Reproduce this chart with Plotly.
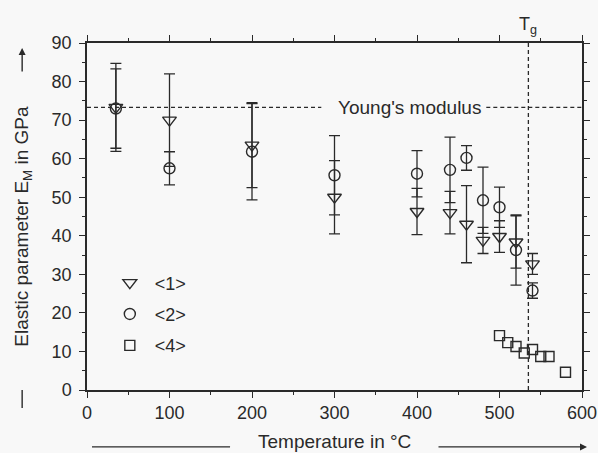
import plotly.graph_objects as go

# ---- data ----
temp_12 = [35, 100, 200, 300, 400, 440, 460, 480, 500, 520, 540]
e_1 = [73.3, 70.0, 63.5, 50.0, 46.3, 46.0, 43.0, 38.8, 39.8, 38.4, 32.7]
err_1 = [11.4, 12.0, 11.0, 9.5, 6.0, 5.5, 10.0, 3.4, 4.1, 6.8, 2.7]
e_2 = [73.0, 57.5, 61.8, 55.7, 56.1, 57.1, 60.2, 49.2, 47.4, 36.3, 25.8]
err_2 = [10.3, 4.3, 12.5, 10.3, 6.0, 8.5, 3.2, 8.6, 5.2, 9.1, 2.0]
temp_4 = [500, 510, 520, 530, 540, 550, 560, 580]
e_4 = [14.1, 12.3, 11.3, 9.6, 10.5, 8.7, 8.7, 4.6]
young_modulus = 73.3
young_gap = [284, 484]      # gap in the dashed line for its label
t_glass = 535
x_ticks = [0, 100, 200, 300, 400, 500, 600]
y_ticks = [0, 10, 20, 30, 40, 50, 60, 70, 80, 90]

INK = "#2a2a2a"
BG = "#f8f8f8"
FONT = "Liberation Sans, Arial, sans-serif"

fig = go.Figure()

# Young's modulus reference line (broken for its label)
fig.add_trace(go.Scatter(
    x=[0, young_gap[0], None, young_gap[1], 600],
    y=[young_modulus, young_modulus, None, young_modulus, young_modulus],
    mode="lines", line=dict(color=INK, width=1.3, dash="4px,3px"),
    showlegend=False, hoverinfo="skip"))
# Tg line
fig.add_trace(go.Scatter(
    x=[t_glass, t_glass], y=[0, 90], mode="lines",
    line=dict(color=INK, width=1.3, dash="4px,3px"),
    showlegend=False, hoverinfo="skip"))

err_style = dict(type="data", color=INK, thickness=1.3, width=5.5)

fig.add_trace(go.Scatter(
    x=temp_12, y=e_1, mode="markers", name="&lt;1&gt;", legendgroup="1",
    marker=dict(symbol="triangle-down-open", size=12, color=INK, line=dict(width=1.4)),
    error_y=dict(array=err_1, **err_style)))
fig.add_trace(go.Scatter(
    x=temp_12, y=e_2, mode="markers", name="&lt;2&gt;", legendgroup="2",
    marker=dict(symbol="circle-open", size=11, color=INK, line=dict(width=1.4)),
    error_y=dict(array=err_2, **err_style)))
fig.add_trace(go.Scatter(
    x=temp_4, y=e_4, mode="markers", name="&lt;4&gt;", legendgroup="4",
    marker=dict(symbol="square-open", size=10, color=INK, line=dict(width=1.4)),
    ))

axis_common = dict(
    showline=True, linecolor=INK, linewidth=1.5, mirror="ticks",
    ticks="outside", ticklen=6, tickwidth=1.3, tickcolor=INK,
    showgrid=False, zeroline=False, automargin=False,
    tickfont=dict(size=18, color=INK, family=FONT),
)

fig.update_xaxes(range=[0, 600], tickvals=x_ticks,
                 minor=dict(ticks="outside", ticklen=3, dtick=50, tickcolor=INK, tickwidth=1.2, showgrid=False),
                 **axis_common)
fig.update_yaxes(range=[0, 90], tickvals=y_ticks, ticklabelstandoff=4,
                 minor=dict(ticks="outside", ticklen=3, dtick=5, tickcolor=INK, tickwidth=1.2, showgrid=False),
                 **axis_common)

ann = []
ann.append(dict(x=391, y=young_modulus, xref="x", yref="y", text="Young's modulus",
                showarrow=False, font=dict(size=19, color=INK, family=FONT),
                xanchor="center", yanchor="middle", bgcolor="rgba(0,0,0,0)"))
ann.append(dict(x=t_glass, y=1.012, xref="x", yref="paper", text="T<sub>g</sub>",
                showarrow=False, font=dict(size=18, color=INK, family=FONT),
                xanchor="center", yanchor="bottom"))
ann.append(dict(x=-0.131, y=0.471, xref="paper", yref="paper",
                text="Elastic parameter E<sub>M</sub> in GPa", textangle=-90,
                showarrow=False, font=dict(size=19, color=INK, family=FONT),
                xanchor="center", yanchor="middle"))
ann.append(dict(x=0.501, y=-0.147, xref="paper", yref="paper",
                text="Temperature in °C",
                showarrow=False, font=dict(size=19, color=INK, family=FONT),
                xanchor="center", yanchor="middle"))
# arrowheads
ann.append(dict(x=-0.131, y=0.9856, xref="paper", yref="paper", text="",
                showarrow=True, arrowhead=2, arrowsize=1, arrowwidth=1.4, arrowcolor=INK,
                ax=0, ay=25))
ann.append(dict(x=1.0101, y=-0.164, xref="paper", yref="paper", text="",
                showarrow=True, arrowhead=2, arrowsize=1, arrowwidth=1.4, arrowcolor=INK,
                ax=-150, ay=0))

shapes = [
    dict(type="line", xref="paper", yref="paper", x0=-0.131, x1=-0.131, y0=0.0, y1=-0.052,
         line=dict(color=INK, width=1.4)),
    dict(type="line", xref="paper", yref="paper", x0=0.0101, x1=0.289, y0=-0.164, y1=-0.164,
         line=dict(color=INK, width=1.4)),
]

fig.update_layout(
    width=598, height=453,
    margin=dict(l=87, r=16, t=43, b=63, autoexpand=False),
    paper_bgcolor=BG, plot_bgcolor=BG,
    font=dict(family=FONT, color=INK),
    annotations=ann, shapes=shapes,
    showlegend=True,
    legend=dict(x=0.036, y=0.362, xanchor="left", yanchor="top",
                bgcolor="rgba(0,0,0,0)", font=dict(size=18, color=INK, family=FONT),
                tracegroupgap=5, itemwidth=40),
)

fig.write_html("out.html")
